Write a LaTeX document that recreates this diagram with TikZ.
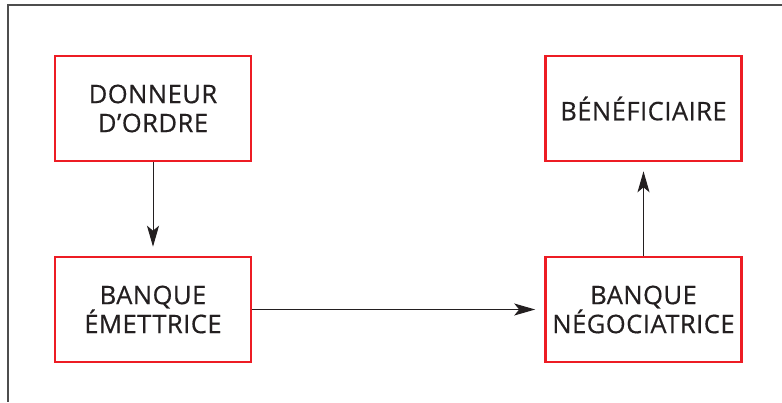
\documentclass[tikz,border=0pt]{standalone}
\usepackage{fontspec}
\setmainfont{Open Sans}[LetterSpace=2,FakeBold=0.5]
\usetikzlibrary{arrows.meta}
\definecolor{boxred}{HTML}{ED1C24}
\definecolor{txt}{HTML}{231F20}
\definecolor{framegray}{HTML}{4D4D4D}
\tikzset{
  boxnode/.style={draw=boxred, line width=2.6pt, minimum width=196pt, minimum height=105pt,
    align=center, text=txt, font=\fontsize{25.5}{29}\selectfont, inner sep=0pt},
  conn/.style={draw=txt, line width=1pt, -{Stealth[length=21pt,width=12pt,inset=5pt]}, shorten >=9pt}
}
\begin{document}
\begin{tikzpicture}[x=1pt,y=-1pt]
\useasboundingbox (0,0) rectangle (782,402);
\fill[white] (0,0) rectangle (782,402);
\draw[framegray, line width=1.8pt] (782,5) -- (8,5) -- (8,402);
\node[boxnode] (a) at (153,108.5) {DONNEUR\\D’ORDRE};
\node[boxnode] (b) at (153,309.5) {BANQUE\\ÉMETTRICE};
\node[boxnode] (c) at (643.5,108.5) {BÉNÉFICIAIRE};
\node[boxnode] (d) at (643.5,309.5) {BANQUE\\NÉGOCIATRICE};
\draw[conn] (a.south) -- (b.north);
\draw[conn] (b.east) -- (d.west);
\draw[conn] (d.north) -- (c.south);
\end{tikzpicture}
\end{document}
